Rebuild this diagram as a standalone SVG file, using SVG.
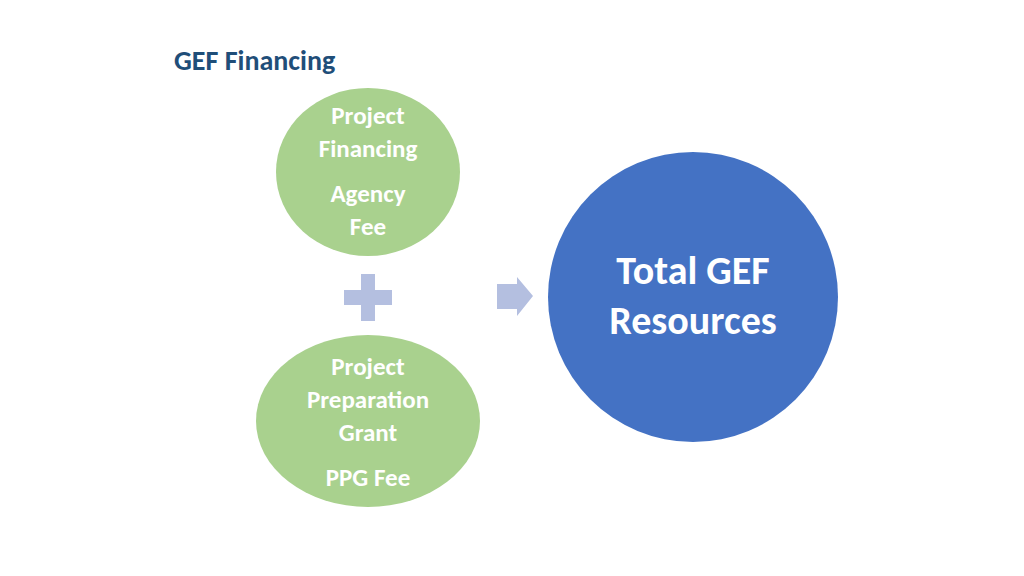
<svg xmlns="http://www.w3.org/2000/svg" width="1024" height="576" viewBox="0 0 1024 576">
<style>
text{font-family:Calibri,"Liberation Sans",Carlito,sans-serif;font-weight:bold;text-anchor:middle}
.g{fill:#a9d18e}
.gt{fill:#fff;font-size:25px}
.s{fill:#b4bfe0}
</style>
<rect width="1024" height="576" fill="#fff"/>
<text x="174" y="70" style="text-anchor:start;font-size:28px;fill:#1f4e79">GEF Financing</text>
<g id="node-project">
<ellipse class="g" cx="368" cy="172" rx="92" ry="84"/>
<text class="gt" x="368" y="124">Project</text>
<text class="gt" x="368" y="157">Financing</text>
<text class="gt" x="368" y="202">Agency</text>
<text class="gt" x="368" y="235">Fee</text>
</g>
<g id="node-ppg">
<ellipse class="g" cx="368" cy="421" rx="112" ry="86"/>
<text class="gt" x="368" y="375">Project</text>
<text class="gt" x="368" y="408">Preparation</text>
<text class="gt" x="368" y="441">Grant</text>
<text class="gt" x="368" y="486">PPG Fee</text>
</g>
<g id="node-plus">
<path class="s" d="M361 274H375V290H392V305H375V321H361V305H344V290H361Z"/>
</g>
<g id="connectors">
<path class="s" d="M497 284H517V277L533 296L517 316V309H497Z"/>
</g>
<g id="node-total">
<circle cx="693" cy="297" r="145" fill="#4472c4"/>
<text x="693" y="284" style="fill:#fff;font-size:40px">Total GEF</text>
<text x="693" y="334" style="fill:#fff;font-size:40px">Resources</text>
</g>
</svg>
